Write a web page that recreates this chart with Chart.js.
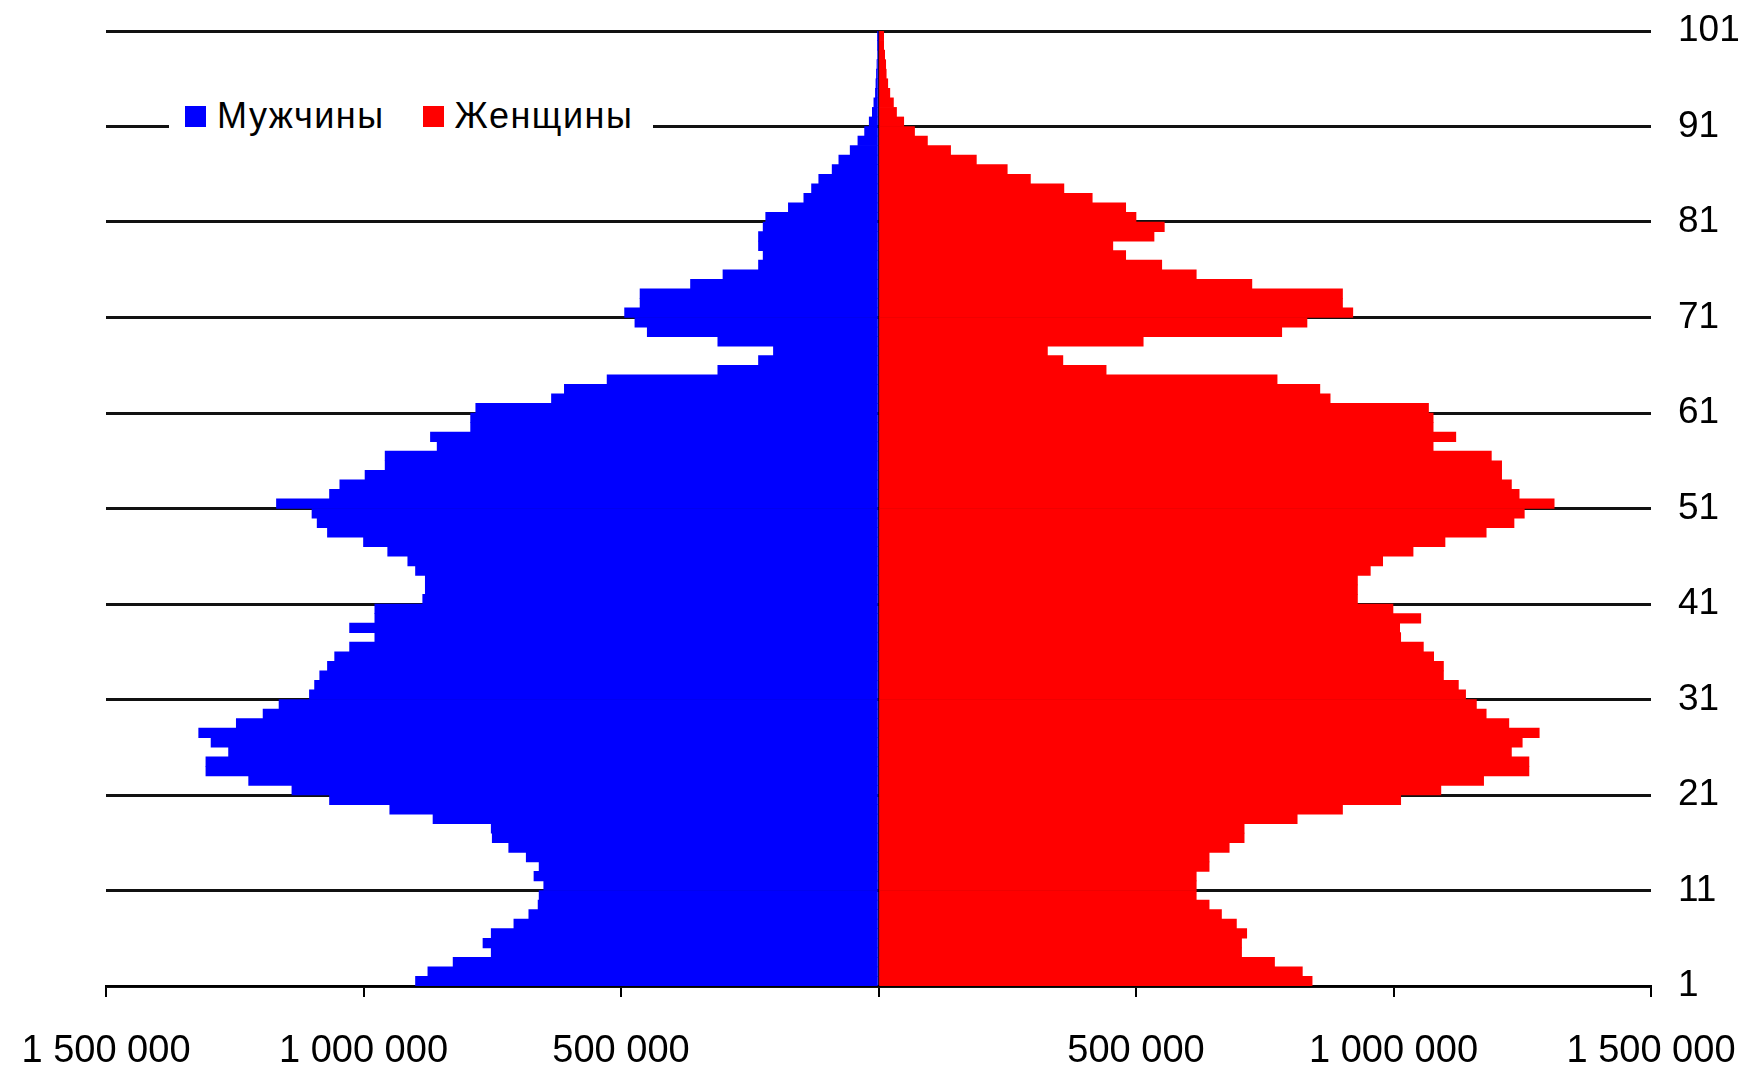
<!DOCTYPE html>
<html lang="ru">
<head>
<meta charset="utf-8">
<title>Половозрастная пирамида</title>
<script src="https://cdn.jsdelivr.net/npm/chart.js@4.4.1/dist/chart.umd.min.js"></script>
<style>
  body { margin: 0; background: #fff; }
  #wrap { position: relative; width: 1746px; height: 1067px; }
  #legend {
    position: absolute; left: 169px; top: 94px; height: 44px;
    padding: 0 20px 0 16px; background: #fff;
    display: flex; align-items: center;
    font: 36px "Liberation Sans", Arial, sans-serif; letter-spacing: 1.5px; color: #000;
  }
  #legend .item { display: flex; align-items: center; margin-right: 38px; }
  #legend .item:last-child { margin-right: 0; }
  #legend .box { width: 21px; height: 21px; margin-right: 11px; }
</style>
</head>
<body>
<div id="wrap">
  <canvas id="pyramid" width="1746" height="1067"></canvas>
  <div id="legend"></div>
</div>
<script>
// возраст, лет (1..100)
var ages = [];
for (var a = 1; a <= 100; a++) ages.push(a);

// численность, тыс. человек (с картинки, на глаз)
var men = [
  899, 875, 826, 752, 768, 752, 708, 679, 661, 659,
  650, 669, 659, 684, 718, 750, 752, 865, 949, 1066,
  1139, 1223, 1306, 1306, 1262, 1296, 1320, 1247, 1195, 1164,
  1105, 1095, 1085, 1070, 1056, 1027, 978, 1027, 978, 978,
  885, 880, 880, 899, 914, 953, 1000, 1070, 1090, 1100,
  1169, 1066, 1046, 997, 958, 958, 857, 870, 792, 792,
  782, 635, 610, 527, 312, 233, 204, 312, 449, 473,
  493, 463, 463, 365, 302, 233, 224, 233, 233, 224,
  219, 175, 145, 130, 116, 90, 77, 55, 40, 27,
  18, 12, 9, 6, 5, 4, 3, 2, 1, 1
];
var women = [
  842, 823, 769, 705, 705, 715, 695, 666, 642, 617,
  617, 617, 642, 642, 681, 710, 710, 813, 901, 1014,
  1092, 1175, 1263, 1263, 1229, 1250, 1283, 1224, 1180, 1161,
  1140, 1126, 1097, 1097, 1078, 1058, 1014, 1012, 1053, 999,
  930, 930, 930, 955, 979, 1038, 1100, 1180, 1234, 1254,
  1312, 1244, 1229, 1210, 1210, 1190, 1077, 1121, 1077, 1077,
  1068, 877, 857, 774, 442, 358, 328, 514, 783, 832,
  921, 901, 901, 725, 617, 550, 480, 455, 535, 555,
  500, 480, 415, 360, 295, 250, 190, 140, 95, 70,
  49, 35, 29, 22, 18, 15, 14, 12, 10, 10
];

var seriesNames = ['Мужчины', 'Женщины'];
var seriesColors = ['#0000ff', '#ff0000'];

var family = '"Liberation Sans", Arial, sans-serif';

function fmt(v) {
  if (v === 0) return '';
  return String(Math.abs(v * 1000)).replace(/\B(?=(\d{3})+(?!\d))/g, ' ');
}

var ctx = document.getElementById('pyramid');
var pyramid = new Chart(ctx, {
  type: 'bar',
  data: {
    datasets: [{
      label: seriesNames[0],
      data: ages.map(function(age, i) { return { x: -men[i], y: age + 0.5 }; }),
      backgroundColor: seriesColors[0],
      borderWidth: 0,
      grouped: false,
      barPercentage: 1,
      categoryPercentage: 1
    }, {
      label: seriesNames[1],
      data: ages.map(function(age, i) { return { x: women[i], y: age + 0.5 }; }),
      backgroundColor: seriesColors[1],
      borderWidth: 0,
      grouped: false,
      barPercentage: 1,
      categoryPercentage: 1
    }]
  },
  options: {
    indexAxis: 'y',
    responsive: false,
    animation: false,
    layout: {
      autoPadding: false,
      padding: { left: 106, top: 31, right: 0, bottom: 0 }
    },
    plugins: {
      legend: { display: false },
      tooltip: { enabled: false }
    },
    scales: {
      x: {
        type: 'linear',
        min: -1500,
        max: 1500,
        ticks: {
          stepSize: 500,
          callback: fmt,
          font: { family: family, size: 38 },
          color: '#000',
          padding: 32,
          maxRotation: 0
        },
        grid: {
          color: function(c) { return c.tick && c.tick.value === 0 ? '#1c0840' : 'rgba(0,0,0,0)'; },
          lineWidth: 2,
          tickColor: '#000',
          tickLength: 11,
          tickWidth: 2
        },
        border: { color: '#000', width: 2 },
        afterFit: function(s) {
          s.height = 81;
          s.paddingLeft = 0;
          s.paddingRight = 0;
        }
      },
      y: {
        type: 'linear',
        position: 'right',
        min: 1,
        max: 101,
        offset: false,
        ticks: {
          stepSize: 10,
          font: { family: family, size: 37 },
          color: '#000',
          padding: 27
        },
        grid: {
          color: '#111',
          lineWidth: 3,
          drawTicks: false,
          offset: false
        },
        border: { display: false },
        afterFit: function(s) {
          s.width = 95;
          s.paddingTop = 0;
          s.paddingBottom = 0;
        }
      }
    }
  }
});

// легенда поверх области графика
var legend = document.getElementById('legend');
pyramid.data.datasets.forEach(function(ds) {
  var item = document.createElement('span');
  item.className = 'item';
  var box = document.createElement('span');
  box.className = 'box';
  box.style.background = ds.backgroundColor;
  item.appendChild(box);
  item.appendChild(document.createTextNode(ds.label));
  legend.appendChild(item);
});
</script>
</body>
</html>
